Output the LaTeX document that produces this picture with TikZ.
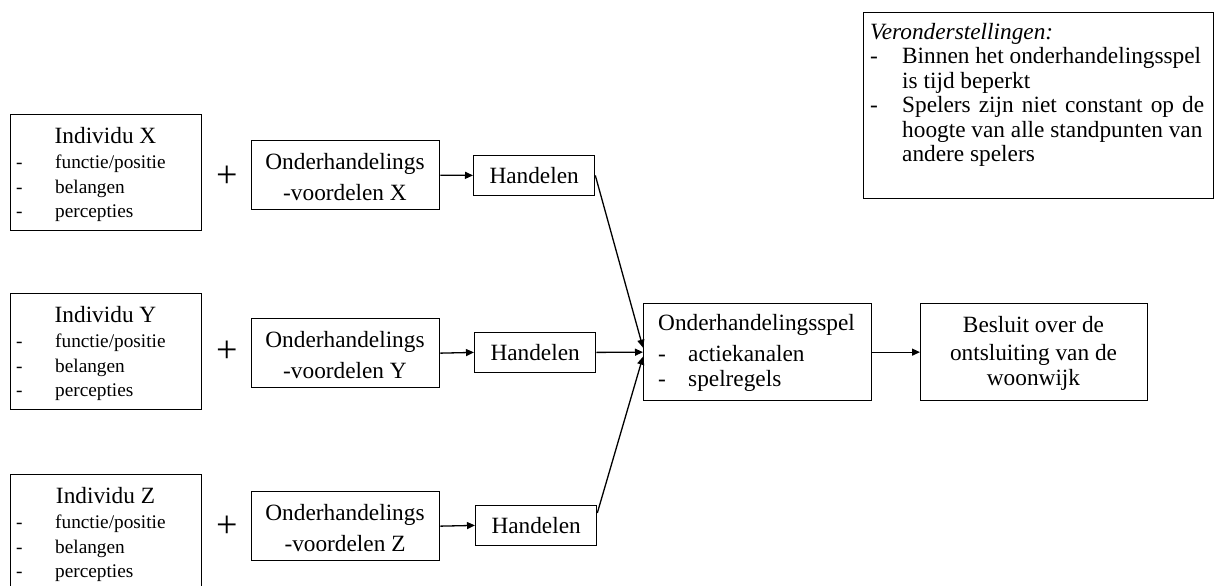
\documentclass[tikz,border=0pt]{standalone}
\usepackage{fontspec}
\setmainfont{Liberation Serif}
\usetikzlibrary{arrows.meta,calc}
\begin{document}
\begin{tikzpicture}[x=1pt,y=-1pt,
  box/.style={draw, line width=1.3pt, inner sep=0pt, anchor=north west},
  txt/.style={inner sep=0pt, font=\fontsize{23.3}{26}\selectfont},
  sml/.style={inner sep=0pt, anchor=base west, font=\fontsize{19.3}{24}\selectfont},
  plussign/.style={inner sep=0pt, font=\fontsize{38}{38}\selectfont},
  conn/.style={line width=1.3pt, -{Triangle[length=8pt,width=7pt]}},
]
\clip (0,0) rectangle (1216,586);

\foreach \g/\T/\V/\H/\Hx/\P in {X/114/140/155/473/177, Y/293/318/332/474/352, Z/474/491/505/475/527}{
  % Individu box
  \node[box, minimum width=191pt, minimum height=116pt] (ind\g) at (10,\T) {};
  \node[txt, anchor=base] (indt\g) at (105.5,\T+29.5) {Individu \g};
  \node[sml] (inda\g) at (16,\T+54) {\makebox[39pt][l]{-}functie/positie};
  \node[sml] (indb\g) at (16,\T+79) {\makebox[39pt][l]{-}belangen};
  \node[sml] (indc\g) at (16,\T+103.5) {\makebox[39pt][l]{-}percepties};
  % plus
  \node[plussign] (plus\g) at (227,\P) {+};
  % voordelen box
  \node[box, minimum width=188pt, minimum height=69pt] (vd\g) at (251,\V) {};
  \node[txt, anchor=base] (vda\g) at (345,\V+29.5) {Onderhandelings};
  \node[txt, anchor=base] (vdb\g) at (345,\V+60) {-voordelen \g};
  % handelen box
  \node[box, minimum width=121pt, minimum height=39.5pt, font=\fontsize{23.3}{26}\selectfont] (hd\g) at (\Hx,\H) {Handelen};
  \draw[conn] (vd\g.east) -- (hd\g.west);
}

% Onderhandelingsspel
\node[box, minimum width=228pt, minimum height=97pt] (spel) at (643,303) {};
\node[txt, anchor=base west] (spela) at (658,330.5) {Onderhandelingsspel};
\node[txt, anchor=base west] (spelb) at (658,361.5) {\makebox[30pt][l]{-}actiekanalen};
\node[txt, anchor=base west] (spelc) at (658,386) {\makebox[30pt][l]{-}spelregels};

% Besluit
\node[box, minimum width=227pt, minimum height=97pt] (bes) at (920,303) {};
\node[txt, anchor=base] (besa) at (1033.5,332) {Besluit over de};
\node[txt, anchor=base] (besb) at (1033.5,360) {ontsluiting van de};
\node[txt, anchor=base] (besc) at (1033.5,385) {woonwijk};

% Veronderstellingen
\node[box, minimum width=350pt, minimum height=186pt] (ver) at (863,12) {};
\node[txt, anchor=base west] (vera) at (870,39.5) {\itshape Veronderstellingen:};
\node[txt, anchor=base west] (verb) at (870,64) {\makebox[32pt][l]{-}Binnen het onderhandelingsspel};
\node[txt, anchor=base west] (verc) at (902,88.5) {is tijd beperkt};
\node[txt, anchor=base west] (verd) at (870,112.5) {\makebox[32pt][l]{-}\makebox[302pt][s]{Spelers zijn niet constant op de}};
\node[txt, anchor=base west] (vere) at (902,137) {hoogte van alle standpunten van};
\node[txt, anchor=base west] (verf) at (902,161.5) {andere spelers};

% connectors to the game
\draw[conn] (hdX.east) -- ($(spel.west)+(0,-4.5)$);
\draw[conn] (hdY.east) -- (spel.west);
\draw[conn] ($(hdZ.north east)+(0,8)$) -- ($(spel.west)+(0,4.5)$);
\draw[conn] (spel.east) -- (bes.west);
\end{tikzpicture}
\end{document}
